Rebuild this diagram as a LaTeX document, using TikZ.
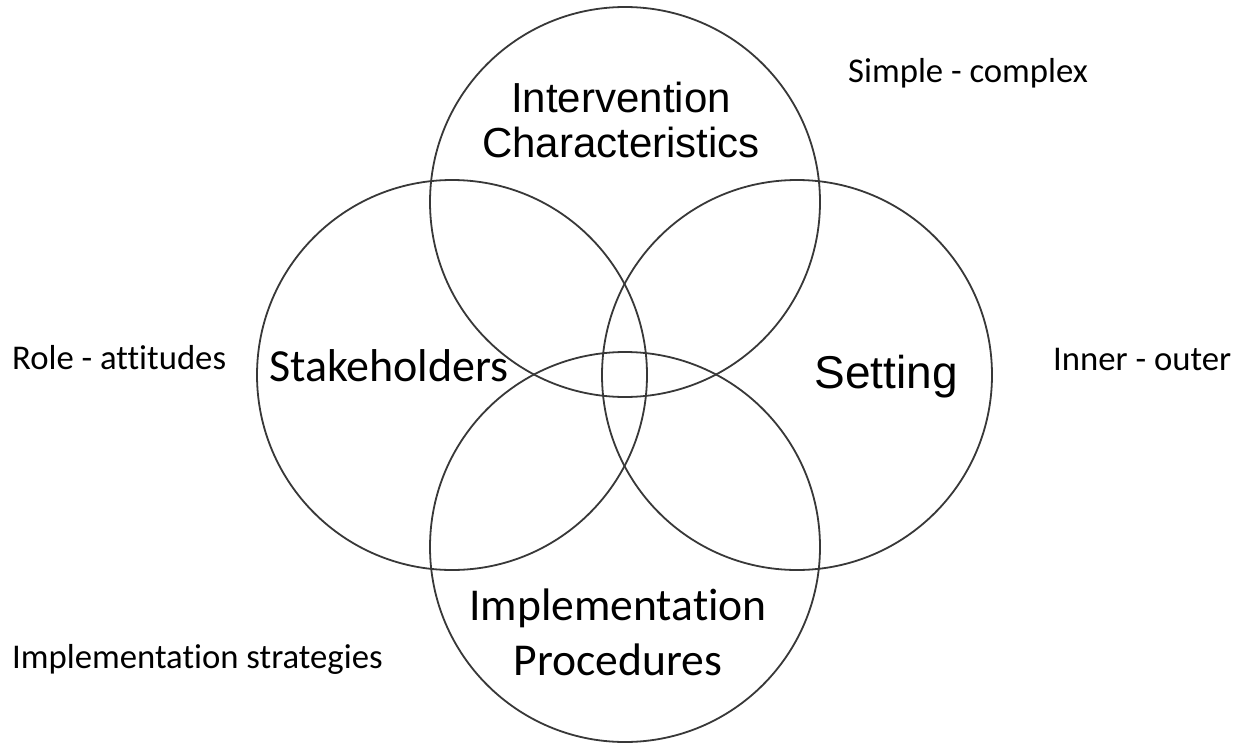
\documentclass[tikz,border=0pt]{standalone}
\usepackage{fontspec}
\setmainfont{Carlito}[Ligatures=NoCommon]
\newfontfamily\arialf{Liberation Sans}
\pgfdeclareradialshading{softring}{\pgfpointorigin}{color(0bp)=(white); color(41bp)=(white); color(50bp)=(black!12); color(60bp)=(black!12)}
\tikzset{
  venn/.style={draw=black!78, line width=1.8pt},
  vennfill/.style={shading=softring},
  biglabel/.style={align=center, anchor=base, inner sep=0pt},
  sidelabel/.style={anchor=base west, inner sep=0pt, font=\fontsize{34.7}{40}\selectfont},
}
\begin{document}
\begin{tikzpicture}[x=1pt, y=-1pt]
\useasboundingbox[fill=white] (0,0) rectangle (1244,744);
% soft fills
\foreach \cx/\cy in {625/202, 452/375, 797/375, 625/547}{
  \path[vennfill, opacity=0.6] (\cx,\cy) circle (195);
}
% outlines
\draw[venn] (625,202) circle (195) coordinate (top);
\draw[venn] (452,375) circle (195) coordinate (left);
\draw[venn] (797,375) circle (195) coordinate (right);
\draw[venn] (625,547) circle (195) coordinate (bottom);
% circle labels (base anchor = last line's baseline)
\node[biglabel, font=\arialf\fontsize{42}{45}\selectfont] (intv) at (621,157) {Intervention\\Characteristics};
\node[biglabel, font=\fontsize{46}{54}\selectfont] (stake) at (389,381) {Stakeholders};
\node[biglabel, font=\arialf\fontsize{46}{50}\selectfont] (sett) at (886,388) {Setting};
\node[biglabel, font=\fontsize{45.6}{55}\selectfont] (impl) at (618,675) {Implementation\\Procedures};
% side labels
\node[sidelabel] (role) at (12,369) {Role - attitudes};
\node[sidelabel] (strat) at (12,668) {Implementation strategies};
\node[sidelabel] (simple) at (848,82) {Simple - complex};
\node[sidelabel] (inner) at (1053,370) {Inner - outer};
\end{tikzpicture}
\end{document}
